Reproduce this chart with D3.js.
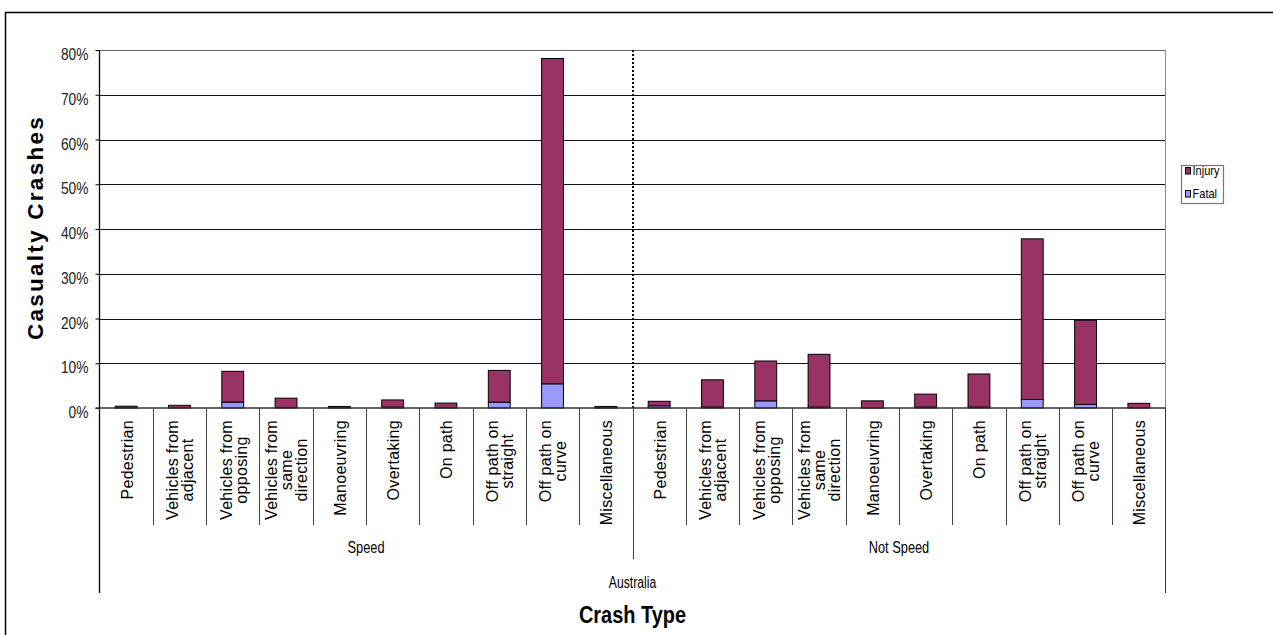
<!DOCTYPE html>
<html><head><meta charset="utf-8">
<script src="https://cdn.jsdelivr.net/npm/d3@7"></script>
<style>html,body{margin:0;padding:0;background:#fff;}svg{display:block;}</style>
</head><body>
<svg id="chart" width="1273" height="635"></svg>
<script>
// ---- data ----
const groups = ["Speed", "Not Speed"];
const crashTypes = ["Pedestrian","Vehicles from adjacent","Vehicles from opposing","Vehicles from same direction","Manoeuvring","Overtaking","On path","Off path on straight","Off path on curve","Miscellaneous"];
const crashTypeLines = [["Pedestrian"],["Vehicles from","adjacent"],["Vehicles from","opposing"],["Vehicles from","same","direction"],["Manoeuvring"],["Overtaking"],["On path"],["Off path on","straight"],["Off path on","curve"],["Miscellaneous"]];
const seriesNames = ["Injury", "Fatal"];
// percentages
const fatalSpeed     = [0.05, 0.05, 1.3, 0.1, 0.05, 0.2, 0.05, 1.3, 5.4, 0.05];
const injurySpeed    = [0.35, 0.55, 6.9, 2.1, 0.3, 1.6, 1.05, 7.1, 72.7, 0.3];
const fatalNotSpeed  = [0.5, 0.2, 1.6, 0.2, 0.05, 0.2, 0.2, 1.9, 0.8, 0.05];
const injuryNotSpeed = [1.0, 6.1, 8.9, 11.8, 1.55, 2.9, 7.4, 35.9, 18.8, 1.0];
const yTicks = [0, 10, 20, 30, 40, 50, 60, 70, 80];
const country = "Australia";
const xTitle = "Crash Type";
const yTitle = "Casualty Crashes";

const colors = {Injury: "#993366", Fatal: "#9999FF"};
const FONT = "'Liberation Sans', Arial, Helvetica, sans-serif";

// ---- build rows ----
const rows = [];
groups.forEach((g, gi) => {
  crashTypes.forEach((c, ci) => {
    rows.push({
      key: g + "|" + c, group: g, idx: ci,
      Fatal: gi === 0 ? fatalSpeed[ci] : fatalNotSpeed[ci],
      Injury: gi === 0 ? injurySpeed[ci] : injuryNotSpeed[ci]
    });
  });
});

const svg = d3.select("#chart");
const L = 99.5, R = 1165.5, T = 50, B = 408;

const xCat = d3.scaleBand().domain(rows.map(r => r.key)).range([L, R]).padding(0);
const xBar = d3.scaleBand().domain(rows.map(r => r.key)).range([L, R]).paddingInner(0.59).paddingOuter(0.295);
const y = d3.scaleLinear().domain([0, 80]).range([B, T]);

function narrow(sel, f, mode) {
  sel.each(function () {
    const len = this.getComputedTextLength();
    this.setAttribute("textLength", len * f);
    this.setAttribute("lengthAdjust", mode || "spacingAndGlyphs");
  });
}

// outer border
svg.append("rect").attr("x", 5.5).attr("y", 12.5).attr("width", 1400).attr("height", 800)
  .attr("fill", "none").attr("stroke", "#000").attr("stroke-width", 1.5);

// gridlines
svg.append("g").selectAll("line").data(yTicks.filter(t => t > 0)).join("line")
  .attr("x1", L).attr("x2", R)
  .attr("y1", d => Math.round(y(d)) + 0.5).attr("y2", d => Math.round(y(d)) + 0.5)
  .attr("stroke", d => d === 80 ? "#666" : "#111").attr("stroke-width", 1);

// plot right border
svg.append("line").attr("x1", R).attr("x2", R).attr("y1", T).attr("y2", B)
  .attr("stroke", "#888").attr("stroke-width", 1);

// dotted separator
svg.append("line").attr("x1", xCat(rows[10].key) + 0.5).attr("x2", xCat(rows[10].key) + 0.5)
  .attr("y1", T).attr("y2", B).attr("stroke", "#000").attr("stroke-width", 2)
  .attr("stroke-dasharray", "2,2");

// bars (stacked: Fatal bottom, Injury top)
const stack = d3.stack().keys(["Fatal", "Injury"]);
const stacked = stack(rows);
svg.append("g").selectAll("g").data(stacked).join("g")
  .attr("fill", d => colors[d.key])
  .selectAll("rect").data(d => d).join("rect")
  .attr("x", d => xBar(d.data.key))
  .attr("width", xBar.bandwidth())
  .attr("y", d => y(d[1]))
  .attr("height", d => Math.max(0, y(d[0]) - y(d[1])))
  .attr("stroke", "#000").attr("stroke-width", 1);

// y axis
const yAxis = svg.append("g").attr("transform", `translate(${L},0)`)
  .call(d3.axisLeft(y).tickValues(yTicks).tickSize(4).tickPadding(7).tickFormat(d => d + "%"));
yAxis.select(".domain").remove();
yAxis.selectAll(".tick line").attr("stroke", "#000");
yAxis.selectAll("text").attr("font-family", FONT).attr("font-size", 16).attr("fill", "#222")
  .attr("dy", "0.6em");
narrow(yAxis.selectAll("text"), 0.86);

// left axis line (extends down for grouping)
svg.append("line").attr("x1", L).attr("x2", L).attr("y1", T).attr("y2", 593)
  .attr("stroke", "#000").attr("stroke-width", 1.3);
// right grouping line
svg.append("line").attr("x1", R).attr("x2", R).attr("y1", B).attr("y2", 593)
  .attr("stroke", "#333").attr("stroke-width", 1);
// x axis line
svg.append("line").attr("x1", L - 4).attr("x2", R).attr("y1", B).attr("y2", B)
  .attr("stroke", "#333").attr("stroke-width", 1.5);

// category boundaries
const bounds = rows.slice(1).map((r, i) => ({x: xCat(r.key), group: i + 1 === 10}));
svg.append("g").selectAll("line").data(bounds).join("line")
  .attr("x1", d => Math.round(d.x) + 0.5).attr("x2", d => Math.round(d.x) + 0.5)
  .attr("y1", B).attr("y2", d => d.group ? 559 : 525)
  .attr("stroke", "#444").attr("stroke-width", 1);

// category labels
const catG = svg.append("g").attr("font-family", FONT).attr("font-size", 16).attr("fill", "#000")
  .attr("letter-spacing", 0.3);
rows.forEach(r => {
  const lines = crashTypeLines[r.idx];
  const cx = xCat(r.key) + xCat.bandwidth() / 2;
  const g = catG.append("g");
  const texts = lines.map((ln, i) => g.append("text").attr("text-anchor", "middle")
    .attr("y", (i - (lines.length - 1) / 2) * 15 + 0.8).attr("dy", "0.35em").text(ln));
  const maxLen = d3.max(texts, t => t.node().getComputedTextLength());
  g.attr("transform", `translate(${cx},${420 + maxLen / 2}) rotate(-90)`);
});

// group labels
const grpG = svg.append("g").attr("font-family", FONT).attr("font-size", 16).attr("fill", "#000");
groups.forEach((g, gi) => {
  const first = xCat(rows[gi * 10].key), last = xCat(rows[gi * 10 + 9].key) + xCat.bandwidth();
  grpG.append("text").attr("x", (first + last) / 2).attr("y", 553).attr("text-anchor", "middle").text(g);
});
narrow(grpG.selectAll("text"), 0.8);

// country label
const cty = svg.append("text").attr("x", (L + R) / 2).attr("y", 588).attr("text-anchor", "middle")
  .attr("font-family", FONT).attr("font-size", 16).attr("fill", "#000").text(country);
narrow(cty, 0.76);

// axis titles
const xt = svg.append("text").attr("x", (L + R) / 2).attr("y", 622.5).attr("text-anchor", "middle")
  .attr("font-family", FONT).attr("font-size", 24).attr("font-weight", "bold").attr("fill", "#000").text(xTitle);
narrow(xt, 0.83);

const yt = svg.append("text").attr("transform", `translate(42.5,${228.7}) rotate(-90)`)
  .attr("text-anchor", "middle").attr("font-family", FONT).attr("font-size", 22.5)
  .attr("font-weight", "bold").attr("fill", "#000").text(yTitle);
narrow(yt, 1.18, "spacing");

// legend
const lg = svg.append("g");
lg.append("rect").attr("x", 1181.5).attr("y", 165.5).attr("width", 42).attr("height", 38)
  .attr("fill", "#fff").attr("stroke", "#777").attr("stroke-width", 1.2);
const legendItems = ["Injury", "Fatal"];
legendItems.forEach((n, i) => {
  lg.append("rect").attr("x", 1185.5).attr("y", 167.5 + i * 23).attr("width", 5).attr("height", 6.5)
    .attr("fill", colors[n]).attr("stroke", "#000").attr("stroke-width", 1);
  const t = lg.append("text").attr("x", 1192.5).attr("y", 175 + i * 22.5)
    .attr("font-family", FONT).attr("font-size", 13).attr("fill", "#000").text(n);
  narrow(t, 0.85);
});
</script>
</body></html>
